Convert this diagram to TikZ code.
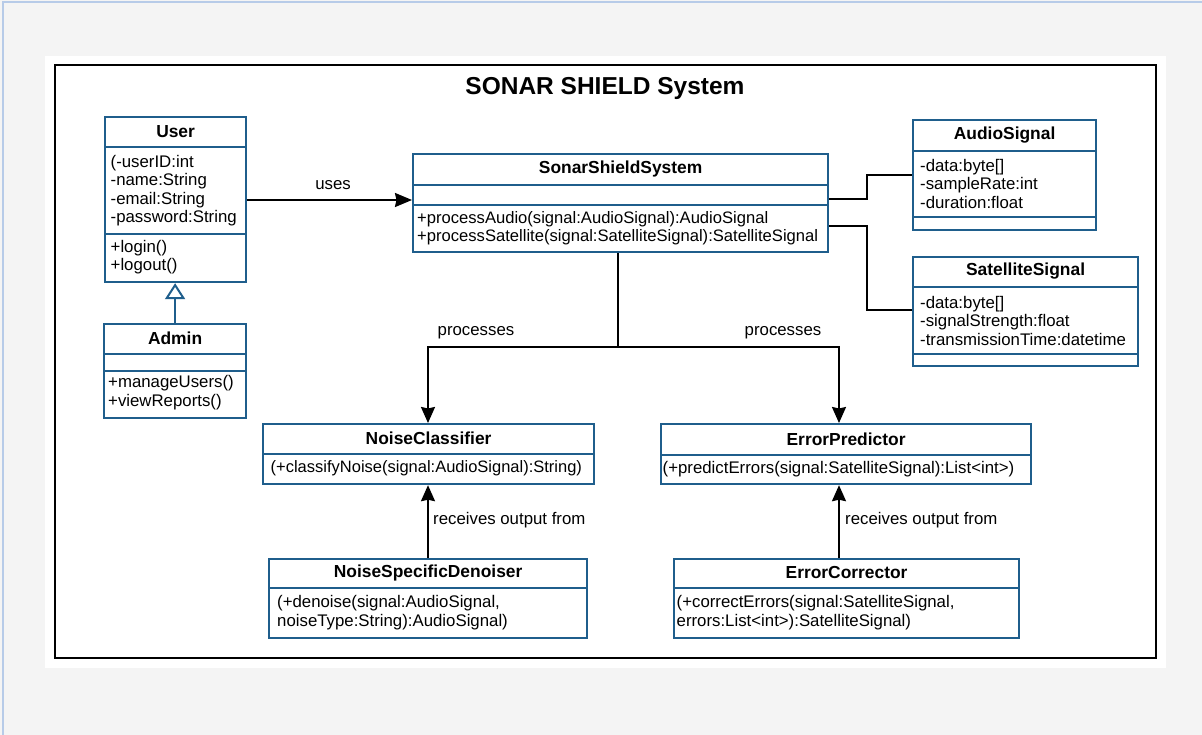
\documentclass[tikz,border=0pt]{standalone}
\usepackage{fontspec}
\setmainfont{Liberation Sans}
\usetikzlibrary{arrows.meta}
\definecolor{umlblue}{HTML}{1F5E8C}
\definecolor{pagebg}{HTML}{F4F4F4}
\definecolor{edgeblue}{HTML}{B7CBE8}
% horizontal compartment divider across a class box
\newcommand{\hsep}[2]{\draw[sepline] (#1.west |- 0,#2) -- (#1.east |- 0,#2);}
\begin{document}
\begin{tikzpicture}[x=1pt,y=-1pt,
  cls/.style={draw=umlblue, line width=2.2pt, fill=white, inner sep=0pt, anchor=north west},
  sepline/.style={draw=umlblue, line width=2.2pt},
  cname/.style={font=\fontsize{17.4}{19}\selectfont\bfseries, inner sep=0pt},
  members/.style={font=\fontsize{16.8}{18.5}\selectfont, align=left, anchor=west, inner sep=0pt},
  link/.style={draw=black, line width=2pt},
  arr/.style={link, -{Stealth[length=16pt,width=14pt,inset=1.5pt]}},
  lbl/.style={font=\fontsize{16.8}{19}\selectfont, inner sep=0pt}]

\useasboundingbox (0,0) rectangle (1202,735);
\fill[pagebg] (0,0) rectangle (1202,735);
\draw[edgeblue, line width=2pt] (3,735) -- (3,2) -- (1202,2);
\fill[white] (45,56) rectangle (1166,668);
\draw[black, line width=2pt] (55,65) rectangle (1156,658);

\node[font=\fontsize{24.5}{28}\selectfont\bfseries, inner sep=0pt] (title) at (605,88) {SONAR SHIELD System};

% User
\node[cls, minimum width=141, minimum height=165] (user) at (104,116) {};
\hsep{user}{147} \hsep{user}{234}
\node[cname] (userN) at (user.north |- 0,131.5) {User};
\node[members] (userA) at (110.5,190.5) {(-userID:int\\-name:String\\-email:String\\-password:String};
\node[members] (userM) at (110.5,257) {+login()\\+logout()};

% Admin
\node[cls, minimum width=142, minimum height=94] (admin) at (103,323) {};
\hsep{admin}{354} \hsep{admin}{371}
\node[cname] (adminN) at (admin.north |- 0,338.5) {Admin};
\node[members] (adminM) at (108,392.5) {+manageUsers()\\+viewReports()};

% SonarShieldSystem
\node[cls, minimum width=415, minimum height=98] (sonar) at (412,153) {};
\hsep{sonar}{185} \hsep{sonar}{205}
\node[cname] (sonarN) at (sonar.north |- 0,169) {SonarShieldSystem};
\node[members, font=\fontsize{16.6}{17.8}\selectfont] (sonarM) at (417,228) {+processAudio(signal:AudioSignal):AudioSignal\\+processSatellite(signal:SatelliteSignal):SatelliteSignal};

% AudioSignal
\node[cls, minimum width=183, minimum height=110] (audio) at (912,119) {};
\hsep{audio}{151} \hsep{audio}{217}
\node[cname] (audioN) at (audio.north |- 0,135) {AudioSignal};
\node[members] (audioA) at (920,183.5) {-data:byte[]\\-sampleRate:int\\-duration:float};

% SatelliteSignal
\node[cls, minimum width=225, minimum height=109] (sat) at (912,256) {};
\hsep{sat}{287} \hsep{sat}{354}
\node[cname] (satN) at (sat.north |- 0,271.5) {SatelliteSignal};
\node[members] (satA) at (920,320.5) {-data:byte[]\\-signalStrength:float\\-transmissionTime:datetime};

% NoiseClassifier
\node[cls, minimum width=331, minimum height=60] (nc) at (262,423) {};
\hsep{nc}{454}
\node[cname] (ncN) at (nc.north |- 0,438.5) {NoiseClassifier};
\node[members, font=\fontsize{16.5}{18.5}\selectfont] (ncM) at (270.5,468.5) {(+classifyNoise(signal:AudioSignal):String)};

% NoiseSpecificDenoiser
\node[cls, minimum width=318, minimum height=79] (nsd) at (268,558) {};
\hsep{nsd}{588}
\node[cname] (nsdN) at (nsd.north |- 0,573) {NoiseSpecificDenoiser};
\node[members, font=\fontsize{16.8}{19}\selectfont] (nsdM) at (277,612.5) {(+denoise(signal:AudioSignal,\\noiseType:String):AudioSignal)};

% ErrorPredictor
\node[cls, minimum width=370, minimum height=60] (ep) at (660,423) {};
\hsep{ep}{455}
\node[cname] (epN) at (ep.north |- 0,439) {ErrorPredictor};
\node[members] (epM) at (662.5,469) {(+predictErrors(signal:SatelliteSignal):List<int>)};

% ErrorCorrector
\node[cls, minimum width=345, minimum height=79] (ec) at (673,558) {};
\hsep{ec}{588}
\node[cname] (ecN) at (ec.north |- 0,573) {ErrorCorrector};
\node[members, font=\fontsize{16.8}{19}\selectfont] (ecM) at (676.5,612.5) {(+correctErrors(signal:SatelliteSignal,\\errors:List<int>):SatelliteSignal)};

% generalization Admin -> User
\draw[draw=umlblue, line width=2pt, -{Triangle[width=20pt,length=16pt,open,fill=white]}] (admin.north) -- (admin.north |- user.south);

% uses
\draw[arr, -{Stealth[length=17pt,width=14pt,inset=1.5pt]}] (user.east |- 0,200) -- (sonar.west |- 0,200);
\node[lbl] (usesL) at (333,185) {uses};

% associations to the signal classes
\draw[link] (sonar.east |- 0,199) -- (867,199) -- (867,175) -- (audio.west |- 0,175);
\draw[link] (sonar.east |- 0,226) -- (867,226) -- (867,310) -- (sat.west |- 0,310);

% processes
\coordinate (split) at (618,347);
\draw[link] (sonar.south -| split) -- (split);
\draw[arr] (split) -- (428,347) -- (nc.north -| 428,0);
\draw[arr] (split) -- (839,347) -- (ep.north -| 839,0);
\node[lbl] (procL) at (476,333) {processes};
\node[lbl] (procR) at (783,333) {processes};

% receives output from
\draw[arr] (nsd.north -| 428,0) -- (nc.south -| 428,0);
\draw[arr] (ec.north -| 839,0) -- (ep.south -| 839,0);
\node[lbl, anchor=west] (recvL) at (433,520) {receives output from};
\node[lbl, anchor=west] (recvR) at (845,520) {receives output from};
\end{tikzpicture}
\end{document}
